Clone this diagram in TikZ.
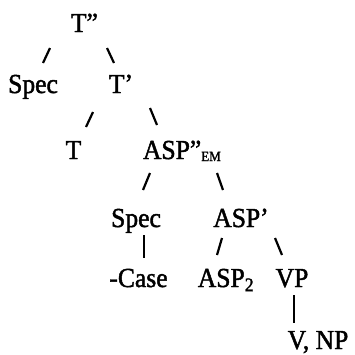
\documentclass[tikz,border=0pt]{standalone}
\usepackage{fontspec}
\setmainfont{Liberation Serif}[FakeBold=1.6,FakeStretch=0.93]
\begin{document}
\begin{tikzpicture}[x=1pt,y=-1pt,
  lbl/.style={inner sep=0pt,outer sep=0pt,anchor=base,font=\fontsize{27.5}{29}\selectfont},
  branch/.style={line width=2.2pt}]
\useasboundingbox (0,0) rectangle (355,354);
% nodes
\node[lbl] (tpp) at (84.5,32) {T”};
\node[lbl] (spec1) at (33,93) {Spec};
\node[lbl] (tp) at (121,93) {T’};
\node[lbl] (t) at (73.5,159) {T};
\node[lbl,anchor=base west] (asp) at (143,159) {ASP”\raisebox{-2pt}{\fontsize{14}{14}\selectfont EM}};
\node[lbl] (spec2) at (136,227) {Spec};
\node[lbl] (aspp) at (241,227) {ASP’};
\node[lbl] (case) at (138.5,287) {-Case};
\node[lbl] (asp2) at (226,287) {ASP\textsubscript{2}};
\node[lbl] (vp) at (292,287) {VP};
\node[lbl] (vnp) at (318,349) {V, NP};
% branch end points
\coordinate (a1) at (50,48);   \coordinate (a2) at (43,63);
\coordinate (b1) at (107,48);  \coordinate (b2) at (114,63);
\coordinate (c1) at (93,112);  \coordinate (c2) at (86,127);
\coordinate (d1) at (150,108); \coordinate (d2) at (157,125);
\coordinate (e1) at (150,173); \coordinate (e2) at (143,190);
\coordinate (f1) at (217,173); \coordinate (f2) at (223,190);
\coordinate (g1) at (144,235); \coordinate (g2) at (144,258);
\coordinate (h1) at (222,238); \coordinate (h2) at (217,255);
\coordinate (i1) at (275,238); \coordinate (i2) at (282,255);
\coordinate (j1) at (294,295); \coordinate (j2) at (294,323);
\draw[branch] (a1) -- (a2);
\draw[branch] (b1) -- (b2);
\draw[branch] (c1) -- (c2);
\draw[branch] (d1) -- (d2);
\draw[branch] (e1) -- (e2);
\draw[branch] (f1) -- (f2);
\draw[branch] (g1) -- (g2);
\draw[branch] (h1) -- (h2);
\draw[branch] (i1) -- (i2);
\draw[branch] (j1) -- (j2);
\end{tikzpicture}
\end{document}
